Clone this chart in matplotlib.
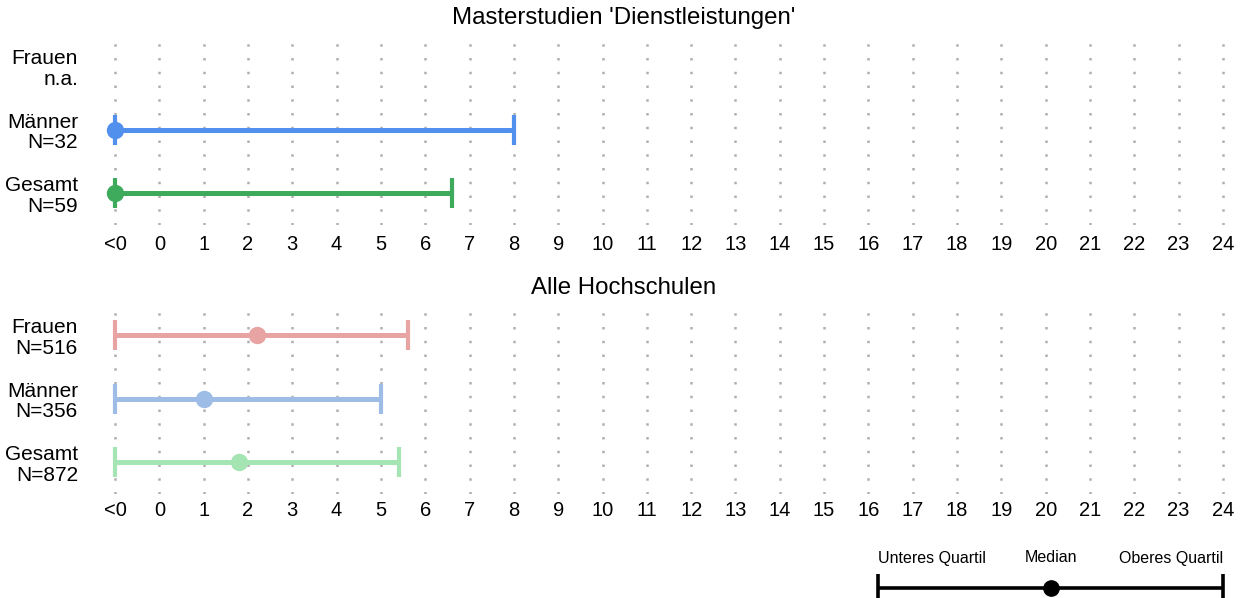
import numpy as np
import matplotlib.pyplot as plt

plt.rcParams['font.family'] = ['Liberation Sans', 'DejaVu Sans']

# data
groups = ['Frauen', 'Männer', 'Gesamt']
tick_vals = list(range(-1, 25))
tick_labels = ['<0'] + [str(i) for i in range(0, 25)]

top_title = "Masterstudien 'Dienstleistungen'"
top_n = ['n.a.', 'N=32', 'N=59']
top_low = [np.nan, -1, -1]
top_med = [np.nan, -1, -1]
top_high = [np.nan, 8, 6.6]
top_colors = ['#E8A3A3', '#5290EE', '#3DAA5C']

bot_title = 'Alle Hochschulen'
bot_n = ['N=516', 'N=356', 'N=872']
bot_low = [-1, -1, -1]
bot_med = [2.2, 1.0, 1.8]
bot_high = [5.6, 5.0, 5.4]
bot_colors = ['#E8A3A3', '#9EBDE6', '#A5E5B3']

legend_labels = ['Unteres Quartil', 'Median', 'Oberes Quartil']
legend_vals = [0, 0.5, 1]

W, H = 1247, 598
fig = plt.figure(figsize=(W / 100, H / 100), dpi=100)

ppu = (1223 - 115) / 25.0
x0 = 115 - 0.3 * ppu
xw = 25.6 * ppu


def panel(top_px, bottom_px, title, title_y, n_labels, low, med, high, colors, pad):
    ax = fig.add_axes([x0 / W, 1 - bottom_px / H, xw / W, (bottom_px - top_px) / H])
    ys = [3, 2, 1]
    for t in tick_vals:
        ax.axvline(t, color='#B0B0B0', lw=1.8, ls=(0, (1, 4.5)), zorder=0)
    for y, lo, me, hi, c in zip(ys, low, med, high, colors):
        if np.isnan(me):
            continue
        ax.errorbar([me], [y], xerr=[[me - lo], [hi - me]], fmt='o', color=c,
                    ms=11.5, elinewidth=3.6, capsize=11, capthick=3, zorder=3)
    ax.set_xlim(-1.3, 24.3)
    ax.set_ylim(0.5, 3.38)
    ax.set_xticks(tick_vals)
    ax.set_xticklabels(tick_labels, fontsize=14.5)
    ax.set_yticks(ys)
    ax.set_yticklabels([g + '\n' + n for g, n in zip(groups, n_labels)],
                       fontsize=15, linespacing=1.1)
    ax.tick_params(length=0, axis='x', pad=pad)
    ax.tick_params(length=0, axis='y', pad=(x0 - 78) * 0.72)
    for s in ax.spines.values():
        s.set_visible(False)
    fig.text(0.5, 1 - title_y / H, title, ha='center', va='center', fontsize=17.3)
    return ax


panel(42, 225, top_title, 18, top_n, top_low, top_med, top_high, top_colors, 7)
panel(311, 494, bot_title, 288, bot_n, bot_low, bot_med, bot_high, bot_colors, 5)

# legend key
lax = fig.add_axes([878 / W, 0, (1223 - 878) / W, 40 / H])
lax.errorbar([legend_vals[1]], [0], xerr=[[legend_vals[1] - legend_vals[0]], [legend_vals[2] - legend_vals[1]]],
             fmt='o', color='black', ms=11, elinewidth=2.6, capsize=10, capthick=2.6, clip_on=False)
lax.set_xlim(0, 1)
lax.set_ylim(-0.5, 1.5)
lax.axis('off')
for v, lab, ha in zip(legend_vals, legend_labels, ['left', 'center', 'right']):
    lax.text(v, 1.5, lab, ha=ha, va='center', fontsize=11.5)

fig.savefig('out.png', dpi=100)
